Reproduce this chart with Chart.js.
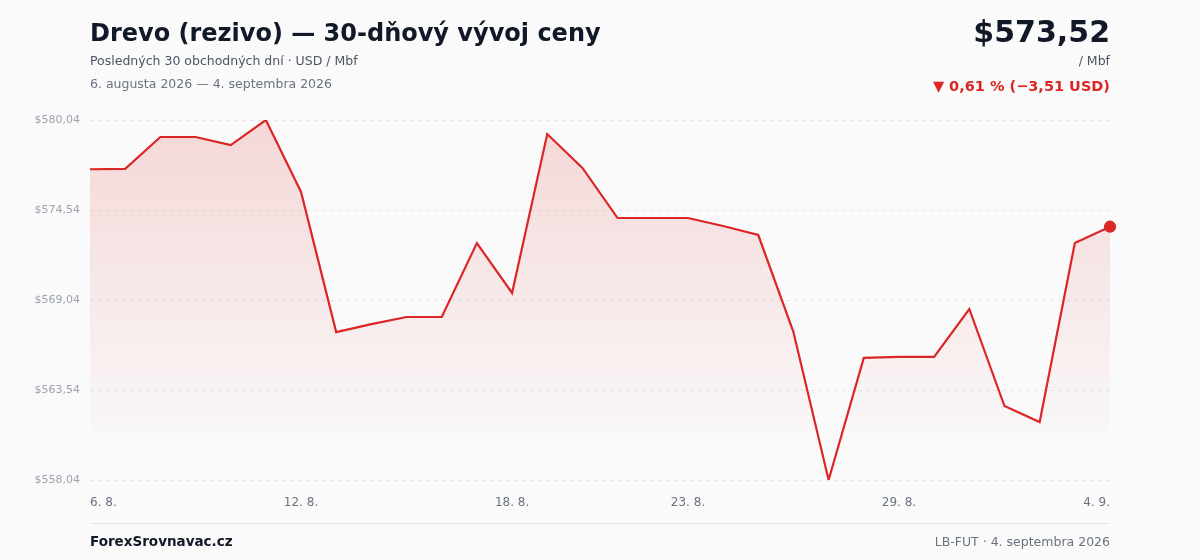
<!DOCTYPE html>
<html><head><meta charset="utf-8">
<script src="https://cdn.jsdelivr.net/npm/chart.js@4"></script>
<style>
html,body{margin:0;padding:0;background:#fafafa;font-family:"DejaVu Sans",sans-serif;}
#wrap{position:relative;width:1200px;height:560px;}
canvas{position:absolute;left:0;top:0;}
.t{position:absolute;white-space:nowrap;}
</style></head><body>
<div id="wrap">
<canvas id="c" width="1200" height="560"></canvas>
<div class="t" style="left:90px;top:19px;font-size:24px;font-weight:bold;color:#111827">Drevo (rezivo) — 30-dňový vývoj ceny</div>
<div class="t" style="left:90px;top:53px;font-size:12.5px;color:#4b5563">Posledných 30 obchodných dní · USD / Mbf</div>
<div class="t" style="left:90px;top:76px;font-size:12.5px;color:#6b7280">6. augusta 2026 — 4. septembra 2026</div>
<div class="t" style="right:90px;top:14px;font-size:30px;font-weight:bold;color:#111827">$573,52</div>
<div class="t" style="right:90px;top:53px;font-size:12.5px;color:#4b5563">/ Mbf</div>
<div class="t" style="right:90px;top:78px;font-size:14.5px;font-weight:bold;color:#dc2626">▼ 0,61 % (−3,51 USD)</div>
<div style="position:absolute;left:90px;width:1020px;top:523px;border-top:1px solid #e5e7eb"></div>
<div class="t" style="left:90px;top:533px;font-size:13.5px;font-weight:bold;color:#111827">ForexSrovnavac.cz</div>
<div class="t" style="right:90px;top:534px;font-size:12.5px;color:#6b7280">LB-FUT · 4. septembra 2026</div>
</div>
<script>
const labels=["6. 8.","7. 8.","8. 8.","9. 8.","10. 8.","11. 8.","12. 8.","13. 8.","14. 8.","15. 8.","16. 8.","17. 8.","18. 8.","19. 8.","20. 8.","21. 8.","22. 8.","23. 8.","24. 8.","25. 8.","26. 8.","27. 8.","28. 8.","29. 8.","30. 8.","31. 8.","1. 9.","2. 9.","3. 9.","4. 9."];
const prices=[577.03,577.05,579.0,579.0,578.51,580.04,575.64,567.08,567.57,568.0,568.0,572.52,569.47,579.18,577.11,574.05,574.05,574.05,573.56,573.01,567.08,558.04,565.5,565.56,565.56,568.49,562.56,561.58,572.52,573.52];
const shownTicks=[0,6,12,17,23,29];
const yMin=558.04,yMax=580.04,yStep=5.5;
const ctx=document.getElementById('c').getContext('2d');
new Chart(ctx,{type:'line',data:{labels,datasets:[{data:prices,borderColor:'#dc2626',borderWidth:2.2,tension:0,fill:true,
backgroundColor:(c)=>{const a=c.chart.chartArea;if(!a)return 'rgba(220,38,38,0.1)';const g=c.chart.ctx.createLinearGradient(0,a.top,0,a.bottom);g.addColorStop(0,'rgba(220,38,38,0.16)');g.addColorStop(0.95,'rgba(220,38,38,0.0)');return g;},
pointRadius:prices.map((v,i)=>i===prices.length-1?5:0),pointBackgroundColor:'#dc2626',pointBorderColor:'#dc2626'}]},
options:{responsive:false,animation:false,layout:{padding:{left:0,right:90,top:120,bottom:40}},
plugins:{legend:{display:false},tooltip:{enabled:false}},
scales:{x:{grid:{display:false},border:{display:false},afterFit:s=>{s.height=40;},
ticks:{autoSkip:false,maxRotation:0,align:'inner',color:'#6b7280',font:{size:12,family:'DejaVu Sans'},padding:8,callback:(v,i)=>shownTicks.includes(i)?labels[i]:''}},
y:{min:yMin,max:yMax,afterFit:s=>{s.width=90;},afterBuildTicks:s=>{s.ticks=[0,1,2,3,4].map(k=>({value:yMin+k*yStep}));},
grid:{color:'#e5e7eb',lineWidth:1,tickLength:0,drawTicks:false},border:{display:false,dash:[4,4]},
ticks:{color:'#9ca3af',font:{size:11,family:'DejaVu Sans'},padding:10,callback:v=>'$'+v.toFixed(2).replace('.',',')}}}}});
</script>
</body></html>
